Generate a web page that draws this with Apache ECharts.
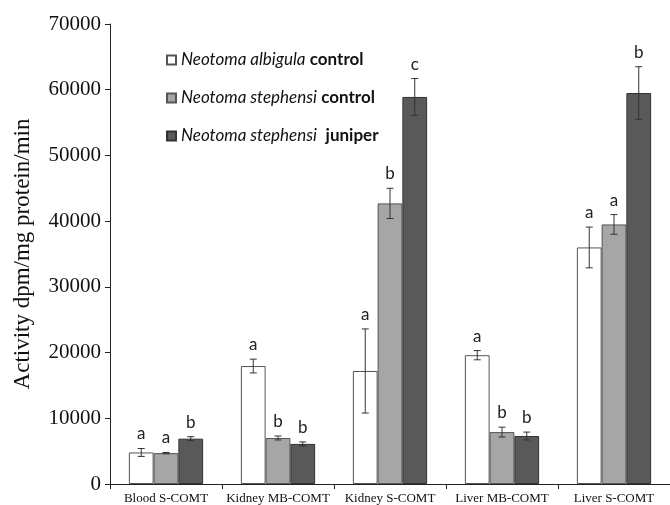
<!DOCTYPE html>
<html><head><meta charset="utf-8">
<script src="https://cdn.jsdelivr.net/npm/echarts@6/dist/echarts.min.js"></script>
<style>html,body{margin:0;padding:0;background:#fff}#c{width:670px;height:505px}</style>
</head><body><div id="c"></div>
<script>
const categories = ['Blood S-COMT', 'Kidney MB-COMT', 'Kidney S-COMT', 'Liver MB-COMT', 'Liver S-COMT'];
const seriesNames = ['Neotoma albigula control', 'Neotoma stephensi control', 'Neotoma stephensi juniper'];
const albigulaControl = [4800, 17950, 17200, 19600, 36000];
const albigulaControlErr = [600, 1050, 6400, 700, 3100];
const stephensiControl = [4700, 7000, 42700, 7900, 39500];
const stephensiControlErr = [100, 300, 2300, 750, 1500];
const stephensiJuniper = [6900, 6100, 58900, 7300, 59500];
const stephensiJuniperErr = [300, 300, 2800, 600, 4000];
const lettersAlbigula = ['a', 'a', 'a', 'a', 'a'];
const lettersStephensiControl = ['a', 'b', 'b', 'b', 'a'];
const lettersStephensiJuniper = ['b', 'b', 'c', 'b', 'b'];
const yTicks = [0, 10000, 20000, 30000, 40000, 50000, 60000, 70000];

const values = [albigulaControl, stephensiControl, stephensiJuniper];
const errs = [albigulaControlErr, stephensiControlErr, stephensiJuniperErr];
const letters = [lettersAlbigula, lettersStephensiControl, lettersStephensiJuniper];
const fills = ['#ffffff', '#a6a6a6', '#595959'];
const borders = ['#555555', '#555555', '#333333'];
const BAR_FRAC = 0.221;

const chart = echarts.init(document.getElementById('c'), null, {renderer: 'canvas'});

const series = [];
values.forEach((vals, i) => {
  series.push({
    name: seriesNames[i], type: 'bar', data: vals,
    barWidth: (BAR_FRAC * 100) + '%', barGap: '0%', barCategoryGap: '33.7%',
    itemStyle: {color: fills[i], borderColor: borders[i], borderWidth: 1},
    emphasis: {disabled: true}, animation: false
  });
});
values.forEach((vals, i) => {
  series.push({
    name: 'err' + i, type: 'custom', animation: false, z: 5,
    data: vals.map((v, k) => [k, v, errs[i][k]]),
    encode: {x: 0, y: 1},
    renderItem: function (params, api) {
      const k = api.value(0), v = api.value(1), e = api.value(2);
      const bw = api.size([1, 0])[0];
      const off = (i - 1) * bw * BAR_FRAC;
      const top = api.coord([k, v + e]);
      const bot = api.coord([k, v - e]);
      const cx = top[0] + off;
      const cap = 3.5;
      const st = {stroke: '#333', lineWidth: 1};
      return {
        type: 'group',
        children: [
          {type: 'line', shape: {x1: cx, y1: top[1], x2: cx, y2: bot[1]}, style: st},
          {type: 'line', shape: {x1: cx - cap, y1: top[1], x2: cx + cap, y2: top[1]}, style: st},
          {type: 'line', shape: {x1: cx - cap, y1: bot[1], x2: cx + cap, y2: bot[1]}, style: st},
          {type: 'text', style: {x: cx, y: top[1] - 6, text: letters[i][params.dataIndex],
            textAlign: 'center', textVerticalAlign: 'bottom', fill: '#222',
            font: '17px Lato'}}
        ]
      };
    }
  });
});

const legendRich = {
  i: {fontStyle: 'italic', fontFamily: 'Lato', fontSize: 17, color: '#111'},
  b: {fontWeight: 'bold', fontFamily: 'Lato', fontSize: 17, color: '#111'}
};

chart.setOption({
  animation: false,
  grid: {left: 110, right: -6, top: 24, bottom: 21, containLabel: false},
  legend: {
    data: seriesNames, orient: 'vertical', left: 161, top: 45,
    itemWidth: 9, itemHeight: 9, itemGap: 18, icon: 'rect',
    selectedMode: false,
    textStyle: {fontFamily: 'Lato', fontSize: 17, lineHeight: 20, color: '#111', padding: [0, 0, 0, 0], rich: legendRich},
    formatter: function (name) {
      const parts = name.split(' ');
      const sp = parts[2] === 'juniper' ? '  ' : ' ';
      return '{i|' + parts[0] + ' ' + parts[1] + '}' + sp + '{b|' + parts[2] + '}';
    }
  },
  xAxis: {
    type: 'category', data: categories,
    axisLine: {lineStyle: {color: '#222', width: 1}},
    axisTick: {show: true, length: 5, lineStyle: {color: '#222'}},
    axisLabel: {fontFamily: 'Liberation Serif', fontSize: 13, color: '#111', margin: 8, interval: 0},
    splitLine: {show: false}
  },
  yAxis: {
    type: 'value', min: yTicks[0], max: yTicks[yTicks.length - 1], interval: 10000,
    name: 'Activity dpm/mg protein/min', nameLocation: 'middle', nameGap: 76,
    nameTextStyle: {fontFamily: 'Liberation Serif', fontSize: 23, color: '#111'},
    axisLine: {show: true, lineStyle: {color: '#222', width: 1}},
    axisTick: {show: true, length: 5, lineStyle: {color: '#222'}},
    axisLabel: {fontFamily: 'Liberation Serif', fontSize: 21, color: '#111', margin: 9,
      formatter: function (v) { return String(v); }},
    splitLine: {show: false}
  },
  series: series
});
</script></body></html>
